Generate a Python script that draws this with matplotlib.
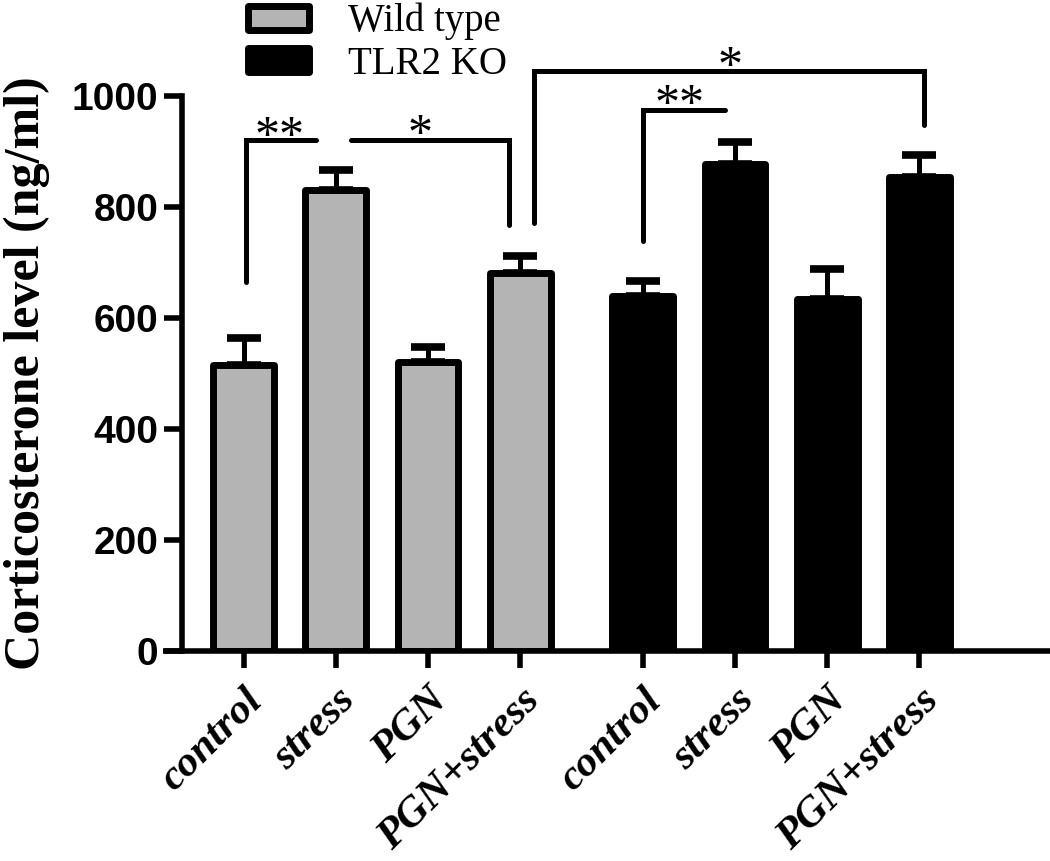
import matplotlib
matplotlib.use("Agg")
import matplotlib.pyplot as plt
import numpy as np

# ---- data ----
categories = ["control", "stress", "PGN", "PGN+stress",
              "control", "stress", "PGN", "PGN+stress"]
positions = [0, 1, 2, 3, 4.33, 5.33, 6.33, 7.33]
wt_values = [515, 830, 521, 681]
wt_errors = [49, 36, 27, 31]
ko_values = [640, 878, 634, 854]
ko_errors = [27, 39, 54, 39]
series_names = ["Wild type", "TLR2 KO"]
yticks = [0, 200, 400, 600, 800, 1000]
ylabel = "Corticosterone level (ng/ml)"

# significance brackets: polyline x (bar-position units), y (data), label and label position
brackets = [
    dict(xs=[0.03, 0.03, 0.79], ys=[664, 921, 921], text="**", tx=0.39, ty=948),
    dict(xs=[1.17, 2.88, 2.88], ys=[921, 921, 768], text="*", tx=1.91, ty=951),
    dict(xs=[3.15, 3.15, 7.38, 7.38], ys=[771, 1045, 1045, 948], text="*", tx=5.28, ty=1074),
    dict(xs=[4.33, 4.33, 5.22], ys=[739, 974, 974], text="**", tx=4.73, ty=1005),
]

GRAY = "#b4b4b4"
W, H, DPI = 1050, 861, 100
fig = plt.figure(figsize=(W / DPI, H / DPI), dpi=DPI)
ax = fig.add_axes([182 / W, 1 - 651 / H, 1 - 182 / W, (651 - 96) / H])

bw = 0.66
wt_x = positions[:4]
ko_x = positions[4:]
b1 = ax.bar(wt_x, wt_values, width=bw, color=GRAY, edgecolor="black", linewidth=5,
            zorder=3, label=series_names[0])
b2 = ax.bar(ko_x, ko_values, width=bw, color="black", edgecolor="black", linewidth=5,
            zorder=3, label=series_names[1])
for b in list(b1) + list(b2):
    b.set_joinstyle("round")

ax.errorbar(wt_x, wt_values, yerr=[np.zeros(4), wt_errors], fmt="none", ecolor="black",
            elinewidth=3.6, capsize=12.5, capthick=5.5, zorder=2)
ax.errorbar(ko_x, ko_values, yerr=[np.zeros(4), ko_errors], fmt="none", ecolor="black",
            elinewidth=3.6, capsize=12.5, capthick=5.5, zorder=2)

for br in brackets:
    ax.plot(br["xs"], br["ys"], color="black", lw=3.6, solid_capstyle="round",
            solid_joinstyle="miter", clip_on=False, zorder=4)
    ax.annotate(br["text"], xy=(br["tx"], br["ty"]), xytext=(0, -18),
                textcoords="offset points", ha="center", va="baseline",
                fontsize=36, family="Liberation Serif", annotation_clip=False)

ax.set_xlim(-0.668, 8.746)
ax.set_ylim(0, 1000)
ax.set_yticks(yticks)
ax.set_yticklabels([str(t) for t in yticks], fontsize=28, fontweight="bold",
                   family="Liberation Sans")
ax.set_xticks(positions)
ax.set_xticklabels(categories, rotation=45, ha="right", va="top", rotation_mode="anchor",
                   fontsize=31, fontweight="bold", fontstyle="italic",
                   family="Liberation Serif")
ax.tick_params(axis="y", length=13, width=4, pad=4, direction="out")
ax.tick_params(axis="x", length=12, width=4, pad=10, direction="out")

for s in ["top", "right"]:
    ax.spines[s].set_visible(False)
ax.spines["left"].set_linewidth(4)
ax.spines["bottom"].set_visible(False)
ax.plot([-19 / 868, 1], [0, 0], transform=ax.transAxes, color="black", lw=4,
        clip_on=False, zorder=5, solid_capstyle="butt")

ax.set_ylabel(ylabel, fontsize=36, fontweight="bold", family="Liberation Serif")
ax.yaxis.set_label_coords(-0.152, 0.5)

leg = fig.legend(handles=[b1, b2], labels=series_names, loc="upper left",
                 bbox_to_anchor=(248 / W, 1 - 3 / H), frameon=False, borderpad=0,
                 borderaxespad=0, handlelength=1.57, handleheight=0.57,
                 handletextpad=1.0, labelspacing=0.14,
                 prop={"family": "Liberation Serif", "size": 28})
for p in leg.get_patches():
    p.set_linewidth(5)
    p.set_joinstyle("round")

fig.savefig("out.png", dpi=DPI)
